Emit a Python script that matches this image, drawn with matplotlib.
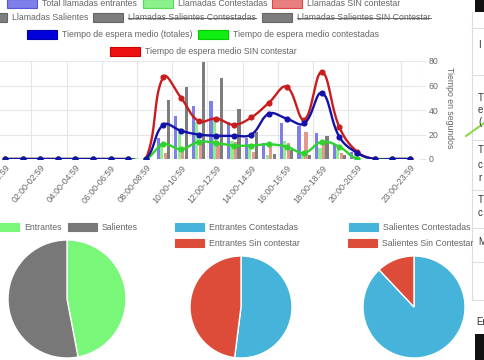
import numpy as np
import matplotlib.pyplot as plt
from matplotlib.patches import Rectangle
from matplotlib.lines import Line2D

W, H = 485, 360
plt.rcParams['font.family'] = ['Liberation Sans', 'DejaVu Sans']
GRAY_TXT = '#666666'
GRID = '#e6e6e6'
FS = 6.3

# datos por hora
horas = [f"{h:02d}:00-{h:02d}:59" for h in range(24)]
ticks_vis = [0, 2, 4, 6, 8, 10, 12, 14, 16, 18, 20, 23]

total_entrantes = [0, 0, 0, 0, 0, 0, 0, 0, 0, 17, 35, 43, 47, 30, 17, 13, 29, 27, 21, 12, 6, 0, 0, 0]
contestadas = [0, 0, 0, 0, 0, 0, 0, 0, 0, 13, 25, 30, 32, 15, 12, 3, 15, 4, 9, 7, 4, 0, 0, 0]
sin_contestar = [0, 0, 0, 0, 0, 0, 0, 0, 0, 5, 8, 12, 13, 14, 6, 10, 13, 22, 12, 5, 2, 0, 0, 0]
salientes = [0, 0, 0, 0, 0, 0, 0, 0, 0, 48, 59, 79, 66, 41, 22, 4, 7, 3, 19, 3, 0, 0, 0, 0]

espera_total = [0, 0, 0, 0, 0, 0, 0, 0, 0, 28, 23, 20, 19, 19, 20, 37, 33, 29, 54, 18, 5, 0, 0, 0]
espera_contestadas = [0, 0, 0, 0, 0, 0, 0, 0, 0, 12, 8, 14, 13, 11, 11, 12, 10, 5, 14, 10, 0, 0, 0, 0]
espera_sin = [0, 0, 0, 0, 0, 0, 0, 0, 0, 67, 50, 31, 33, 28, 34, 46, 59, 32, 71, 26, 6, 0, 0, 0]

# tartas
tarta1 = [47, 53]   # Entrantes, Salientes
tarta2 = [52, 48]   # Entrantes Contestadas, Entrantes Sin contestar
tarta3 = [88, 12]   # Salientes Contestadas, Salientes Sin Contestar


def fx(x):
    return x / W


def fy(y):
    return 1 - y / H


def spline(xv, yv, t=0.4, sx=17.6, sy=1.225, n=16):
    # curva tipo Chart.js (tension 0.4)
    px = np.asarray(xv, float) * sx
    py = np.asarray(yv, float) * sy
    m = len(px)
    c1 = np.zeros((m, 2))
    c2 = np.zeros((m, 2))
    for i in range(m):
        a, b = max(i - 1, 0), min(i + 1, m - 1)
        d01 = np.hypot(px[i] - px[a], py[i] - py[a])
        d12 = np.hypot(px[b] - px[i], py[b] - py[i])
        tot = d01 + d12
        s01 = d01 / tot if tot else 0
        s12 = d12 / tot if tot else 0
        dx, dy = px[b] - px[a], py[b] - py[a]
        c1[i] = px[i] - t * s01 * dx, py[i] - t * s01 * dy
        c2[i] = px[i] + t * s12 * dx, py[i] + t * s12 * dy
    ox, oy = [px[0]], [py[0]]
    u = np.linspace(0, 1, n)[1:]
    for i in range(m - 1):
        p0 = np.array([px[i], py[i]])
        p3 = np.array([px[i + 1], py[i + 1]])
        p1, p2 = c2[i], c1[i + 1]
        for k in range(2):
            v = ((1 - u) ** 3 * p0[k] + 3 * (1 - u) ** 2 * u * p1[k]
                 + 3 * (1 - u) * u ** 2 * p2[k] + u ** 3 * p3[k])
            (ox if k == 0 else oy).extend(v)
    return np.array(ox) / sx, np.array(oy) / sy


fig = plt.figure(figsize=(W / 100, H / 100), dpi=100)

# ---------- grafico principal ----------
ax = fig.add_axes([fx(-3.8), fy(159), (418.6 + 3.8) / W, (159 - 61) / H])
ax.set_xlim(-0.5, 23.5)
ax.set_ylim(0, 80)
ax.set_axisbelow(True)
for s in ax.spines.values():
    s.set_visible(False)

x = np.arange(len(horas))
barras = [(total_entrantes, '#7f7fea'), (contestadas, '#8cf08c'),
          (sin_contestar, '#e4978c'), (salientes, '#7d7d7d')]
for k, (vals, col) in enumerate(barras):
    ax.bar(x + (k - 1.5) * 0.2, vals, width=0.18, color=col, zorder=2)

lineas = [(espera_sin, '#c91d1d', 3), (espera_contestadas, '#2fd22f', 4),
          (espera_total, '#1212a8', 5)]
for vals, col, z in lineas:
    sxv, syv = spline(x, vals)
    ax.plot(sxv, syv, color=col, lw=1.7, zorder=z)
    ax.plot(x, vals, 'o', color=col, ms=3.4, zorder=z)

ax.set_xticks(ticks_vis)
ax.set_xticklabels([horas[i] for i in ticks_vis])
ax.tick_params(axis='x', length=0, pad=3, labelsize=FS, labelcolor=GRAY_TXT)
plt.setp(ax.get_xticklabels(), rotation=50, ha='right', rotation_mode='anchor')
ax.yaxis.tick_right()
ax.set_yticks([0, 20, 40, 60, 80])
ax.tick_params(axis='y', length=5, color=GRID, pad=2, labelsize=FS, labelcolor=GRAY_TXT)
ax.yaxis.grid(True, color=GRID, lw=0.8)
for b in [1.5, 3.5, 5.5, 7.5, 9.5, 11.5, 13.5, 15.5, 17.5, 19.5, 22.5, 23.5]:
    ax.axvline(b, color=GRID, lw=0.8, zorder=0)
fig.text(fx(450), fy(108), 'Tiempo en segundos', rotation=270, ha='center', va='center',
         fontsize=FS, color=GRAY_TXT)

# ---------- leyendas ----------
renderer = fig.canvas.get_renderer()


def item(x0, yc, face, edge, label, struck=False, w=30, h=9):
    fig.add_artist(Rectangle((fx(x0), fy(yc + h / 2)), w / W, h / H, transform=fig.transFigure,
                             facecolor=face, edgecolor=edge, lw=0.8))
    t = fig.text(fx(x0 + w + 5), fy(yc), label, ha='left', va='center', fontsize=FS, color=GRAY_TXT)
    if struck:
        bb = t.get_window_extent(renderer)
        ym = (bb.y0 + bb.y1) / 2
        fig.add_artist(Line2D([bb.x0 / W, bb.x1 / W], [ym / H, ym / H], transform=fig.transFigure,
                              color=GRAY_TXT, lw=0.7))


item(7, 3.5, '#7f7fea', '#5555dd', 'Total llamadas entrantes')
item(143, 3.5, '#8cf08c', '#55dd55', 'Llamadas Contestadas')
item(272, 3.5, '#e88080', '#dd4444', 'Llamadas SIN contestar')
item(-23, 17.5, '#7d7d7d', '#666666', 'Llamadas Salientes')
item(93, 17.5, '#7d7d7d', '#666666', 'Llamadas Salientes Contestadas', struck=True)
item(262, 17.5, '#7d7d7d', '#666666', 'Llamadas Salientes SIN Contestar', struck=True)
item(27, 34.5, '#0000dd', '#0000aa', 'Tiempo de espera medio (totales)')
item(198, 34.5, '#11ee11', '#00cc00', 'Tiempo de espera medio contestadas')
item(110, 51.5, '#ee1111', '#cc0000', 'Tiempo de espera medio SIN contestar')

VERDE, GRIS, AZUL, ROJO = '#79f779', '#787878', '#45b3da', '#dd4b39'
item(-10, 227, VERDE, VERDE, 'Entrantes', w=29, h=8)
item(68, 227, GRIS, GRIS, 'Salientes', w=29, h=8)
item(175, 227, AZUL, AZUL, 'Entrantes Contestadas', w=29, h=8)
item(175, 243, ROJO, ROJO, 'Entrantes Sin contestar', w=29, h=8)
item(349, 227, AZUL, AZUL, 'Salientes Contestadas', w=29, h=8)
item(348, 243, ROJO, ROJO, 'Salientes Sin Contestar', w=29, h=8)

# ---------- tartas ----------
for (cx, cy, r), vals, cols in [((67, 299, 59), tarta1, [VERDE, GRIS]),
                                ((241, 307, 51), tarta2, [AZUL, ROJO]),
                                ((414, 307, 51), tarta3, [AZUL, ROJO])]:
    pa = fig.add_axes([fx(cx - r), fy(cy + r), 2 * r / W, 2 * r / H])
    pa.pie(vals, colors=cols, startangle=90, counterclock=False, radius=1,
           wedgeprops=dict(edgecolor='white', linewidth=1))
    pa.set_xlim(-1, 1)
    pa.set_ylim(-1, 1)
    pa.axis('off')

# ---------- panel lateral (recortado) ----------
fig.add_artist(Rectangle((fx(475), fy(12)), 10 / W, 12 / H, transform=fig.transFigure,
                         facecolor='#111111', edgecolor='none'))
fig.add_artist(Rectangle((fx(475), fy(360)), 10 / W, 26 / H, transform=fig.transFigure,
                         facecolor='#111111', edgecolor='none'))
fig.add_artist(Line2D([fx(472), fx(472)], [fy(12), fy(300)], transform=fig.transFigure,
                      color='#dddddd', lw=0.8))
for yl in [28, 75, 140, 190, 228, 262, 300]:
    fig.add_artist(Line2D([fx(472), 1], [fy(yl), fy(yl)], transform=fig.transFigure,
                          color='#dddddd', lw=0.8))
for (xt, yt, s) in [(478, 45, 'I'), (478, 98, 'T'), (478, 110, 'e'), (478, 122, '('),
                    (478, 150, 'T'), (478, 165, 'c'), (478, 178, 'r'), (478, 200, 'T'),
                    (478, 213, 'c'), (478, 242, 'M'), (476, 322, 'Er')]:
    fig.text(fx(xt), fy(yt), s, ha='left', va='center', fontsize=7, color='#333333')
fig.add_artist(Line2D([fx(466), fx(487)], [fy(136), fy(121)], transform=fig.transFigure,
                      color='#8fd64a', lw=1.5))

fig.savefig('out.png', dpi=100)
